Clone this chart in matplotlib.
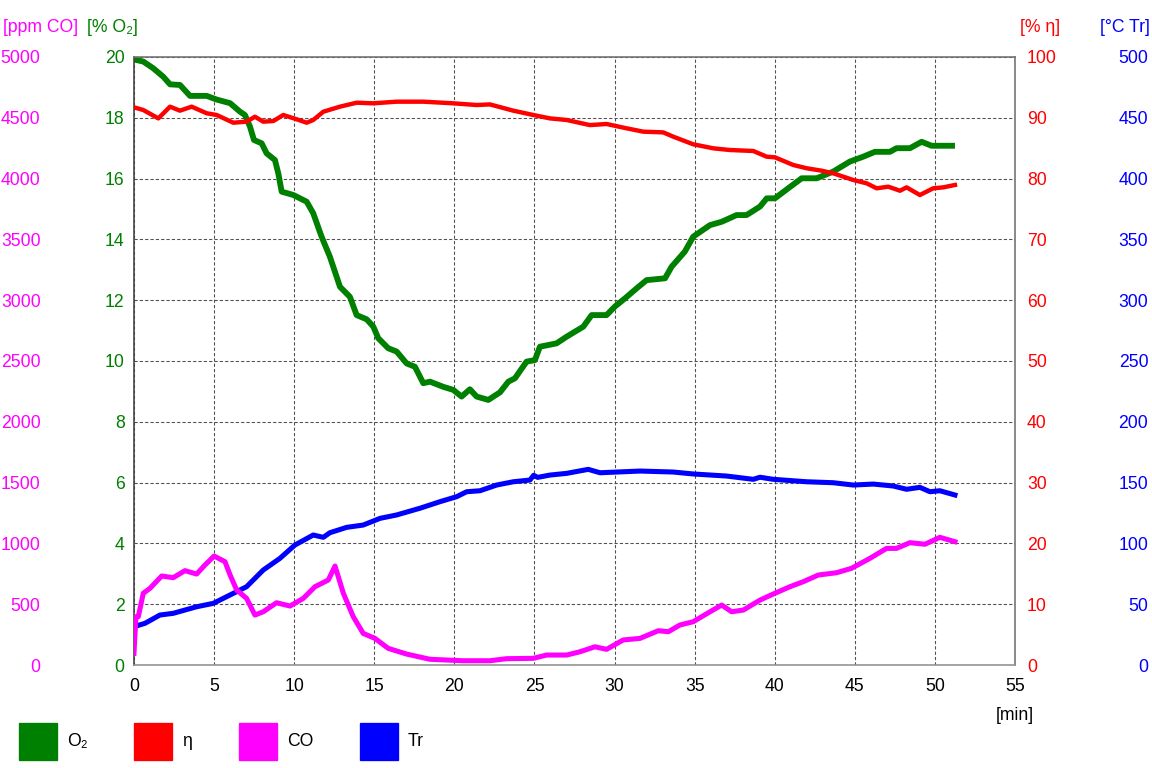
import matplotlib
matplotlib.use("Agg")
import matplotlib.pyplot as plt
from matplotlib.patches import Rectangle

plt.rcParams['font.family'] = ['Liberation Sans', 'DejaVu Sans']

# O2 [%] over time [min]
o2_t = [0, 0.58, 1.2, 1.83, 2.25, 2.87, 3.5, 4.54, 5.16, 6.0, 6.62, 6.93, 7.24, 7.49,
        7.97, 8.28, 8.8, 9.01, 9.22, 9.95, 10.78, 11.19, 11.71, 12.23, 12.86, 13.48,
        13.9, 14.53, 14.94, 15.25, 15.87, 16.4, 17.02, 17.54, 18.06, 18.48, 19.31,
        19.93, 20.45, 20.97, 21.39, 22.12, 22.85, 23.37, 23.78, 24.51, 25.03, 25.34,
        26.38, 27.01, 28.05, 28.57, 29.5, 30.02, 30.65, 31.38, 32.0, 33.15, 33.56,
        34.39, 34.91, 35.96, 36.69, 37.62, 38.24, 39.08, 39.5, 40.01, 40.84, 41.68,
        42.62, 43.65, 44.69, 45.52, 46.25, 47.19, 47.6, 48.44, 49.17, 49.79, 51.25]
o2 = [19.92, 19.85, 19.63, 19.35, 19.1, 19.08, 18.72, 18.72, 18.6, 18.48, 18.2, 18.09,
      17.71, 17.27, 17.16, 16.83, 16.61, 16.17, 15.57, 15.46, 15.24, 14.86, 14.09,
      13.43, 12.44, 12.11, 11.51, 11.37, 11.13, 10.75, 10.42, 10.31, 9.92, 9.81, 9.27,
      9.32, 9.15, 9.05, 8.83, 9.07, 8.83, 8.72, 8.97, 9.32, 9.43, 9.98, 10.03, 10.47,
      10.58, 10.8, 11.13, 11.51, 11.51, 11.79, 12.06, 12.39, 12.66, 12.72, 13.1, 13.6,
      14.09, 14.47, 14.58, 14.8, 14.8, 15.08, 15.35, 15.35, 15.68, 16.01, 16.01, 16.23,
      16.56, 16.72, 16.88, 16.88, 17.0, 17.0, 17.21, 17.08, 17.08]

# efficiency eta [%]
eta_t = [0, 0.58, 1.52, 2.25, 2.87, 3.6, 4.54, 5.16, 6.2, 7.03, 7.55, 8.07, 8.7, 9.32,
         10.16, 10.78, 11.19, 11.82, 12.86, 13.9, 14.94, 16.4, 18.06, 19.93, 21.39,
         22.22, 23.68, 24.93, 25.97, 27.01, 28.46, 29.5, 30.75, 31.79, 33.04, 33.66,
         34.91, 36.16, 37.2, 38.66, 39.5, 40.01, 41.15, 41.99, 42.93, 43.65, 44.9,
         45.74, 46.36, 47.09, 47.82, 48.23, 49.06, 49.89, 50.52, 51.25]
eta = [91.72, 91.28, 89.9, 91.83, 91.17, 91.83, 90.74, 90.46, 89.19, 89.36, 90.18,
       89.36, 89.47, 90.46, 89.75, 89.19, 89.64, 91.0, 91.83, 92.48, 92.38, 92.65,
       92.65, 92.38, 92.1, 92.2, 91.17, 90.46, 89.9, 89.64, 88.8, 88.98, 88.27, 87.72,
       87.6, 86.9, 85.64, 84.98, 84.7, 84.54, 83.6, 83.5, 82.24, 81.7, 81.3, 80.87,
       79.77, 79.22, 78.4, 78.67, 78.0, 78.56, 77.3, 78.4, 78.56, 78.95]

# CO [ppm]
co_t = [0, 0.12, 0.27, 0.58, 1.0, 1.73, 2.45, 3.18, 3.91, 4.43, 5.0, 5.68, 6.0, 6.41,
        7.03, 7.55, 8.07, 8.9, 9.74, 10.57, 11.3, 12.13, 12.55, 13.07, 13.69, 14.31,
        15.04, 15.87, 17.02, 18.48, 20.56, 22.22, 23.26, 24.93, 25.76, 27.01, 27.84,
        28.78, 29.5, 30.54, 31.59, 32.73, 33.36, 34.08, 34.91, 35.96, 36.69, 37.31,
        38.04, 39.08, 39.91, 40.95, 41.78, 42.72, 43.86, 44.79, 45.94, 46.98, 47.6,
        48.44, 49.38, 50.31, 51.25]
co = [96, 397, 397, 590, 631, 732, 718, 776, 748, 822, 896, 850, 740, 617, 548, 411,
      438, 512, 485, 548, 644, 699, 814, 590, 397, 260, 219, 137, 90, 47, 35, 35, 52,
      55, 82, 82, 109, 150, 129, 206, 219, 282, 274, 329, 356, 438, 493, 438, 452, 534,
      584, 644, 685, 740, 759, 795, 877, 959, 959, 1006, 993, 1050, 1014]

# flue temperature Tr [deg C]
tr_t = [0, 0.69, 1.62, 2.45, 3.91, 4.95, 6.0, 7.03, 8.07, 9.11, 10.05, 11.19, 11.82,
        12.23, 13.28, 14.31, 15.36, 16.4, 17.85, 19.1, 20.14, 20.77, 21.6, 22.64, 23.68,
        24.72, 24.95, 25.2, 25.97, 27.01, 28.36, 29.09, 31.59, 33.66, 34.91, 36.99,
        38.66, 39.08, 39.91, 41.99, 43.65, 44.9, 46.15, 47.4, 48.23, 49.06, 49.69,
        50.31, 51.25]
tr = [31.5, 34.3, 41.1, 42.5, 47.9, 50.7, 57.6, 64.4, 78.1, 87.7, 98.7, 106.9, 105,
      108.8, 113.2, 115.1, 120.6, 123.4, 128.9, 134.3, 138.4, 142.5, 143.3, 148, 150.7,
      152.1, 156.0, 154.3, 156.2, 157.6, 160.9, 158.1, 159.5, 158.7, 157.1, 155.4,
      152.7, 154.4, 152.7, 150.7, 149.9, 148, 148.8, 147.2, 144.5, 146.1, 142.5, 143.3,
      139.8]

GREEN, RED, MAGENTA, BLUE = '#008000', '#ff0000', '#ff00ff', '#0000ff'
FS = 13.2

fig = plt.figure(figsize=(12, 8), dpi=96)
ax = fig.add_axes([0.1163, 0.1341, 0.7648, 0.7917])

# host axis: O2 + grid
ax.set_xlim(0, 55)
ax.set_ylim(0, 20)
ax.set_xticks(range(0, 56, 5))
ax.set_yticks(range(0, 21, 2))
ax.grid(True, color='#505050', linestyle=(0, (3, 2)), linewidth=0.8)
ax.tick_params(axis='both', length=0, labelsize=FS)
ax.tick_params(axis='x', pad=10, colors='black')
ax.tick_params(axis='y', pad=7, labelcolor=GREEN)
for s in ax.spines.values():
    s.set_color('#707070')
    s.set_linewidth(1.2)
ax.spines['left'].set_color('#404040')
ax.spines['bottom'].set_color('#909090')
ax.plot(o2_t, o2, color=GREEN, lw=4.4, solid_capstyle='butt')

# efficiency axis (right)
ax_eta = ax.twinx()
ax_eta.set_ylim(0, 100)
ax_eta.set_yticks(range(0, 101, 10))
ax_eta.tick_params(axis='y', length=0, pad=9, labelsize=FS, labelcolor=RED)

# temperature axis (right, outer)
ax_tr = ax.twinx()
ax_tr.set_ylim(0, 500)
ax_tr.set_yticks(range(0, 501, 50))
ax_tr.tick_params(axis='y', length=0, pad=100, labelsize=FS, labelcolor=BLUE)
plt.setp(ax_tr.get_yticklabels(), ha='right')
ax_tr.plot(tr_t, tr, color=BLUE, lw=3.8)

# CO axis (left, outer)
ax_co = ax.twinx()
ax_co.set_ylim(0, 5000)
ax_co.set_yticks(range(0, 5001, 500))
ax_co.yaxis.tick_left()
ax_co.tick_params(axis='y', length=0, pad=70, labelsize=FS, labelcolor=MAGENTA)
ax_co.plot(co_t, co, color=MAGENTA, lw=3.8)

# eta line on top of the others
ax_eta2 = ax.twinx()
ax_eta2.set_ylim(0, 100)
ax_eta2.set_yticks([])
ax_eta2.plot(eta_t, eta, color=RED, lw=3.3)

for a in (ax_eta, ax_tr, ax_co, ax_eta2):
    for s in a.spines.values():
        s.set_visible(False)

# axis headers
fig.text(3 / 1152, 1 - 28 / 768, '[ppm CO]', color=MAGENTA, fontsize=FS, va='center')
fig.text(87 / 1152, 1 - 28 / 768, '[% O₂]', color=GREEN, fontsize=FS, va='center')
fig.text(1020 / 1152, 1 - 28 / 768, '[% η]', color=RED, fontsize=FS, va='center')
fig.text(1150 / 1152, 1 - 28 / 768, '[°C Tr]', color=BLUE, fontsize=FS, va='center', ha='right')
fig.text(1015 / 1152, 1 - 715 / 768, '[min]', color='black', fontsize=FS, va='center', ha='center')

# legend at the bottom
legend_items = [('O₂', GREEN, 19), ('η', RED, 134), ('CO', MAGENTA, 239), ('Tr', BLUE, 360)]
for name, col, x0 in legend_items:
    fig.add_artist(Rectangle((x0 / 1152, 1 - 760 / 768), 38 / 1152, 37 / 768,
                             transform=fig.transFigure, color=col))
    fig.text((x0 + 48) / 1152, 1 - 742 / 768, name, fontsize=FS, va='center')

fig.savefig('out.png', dpi=96)
